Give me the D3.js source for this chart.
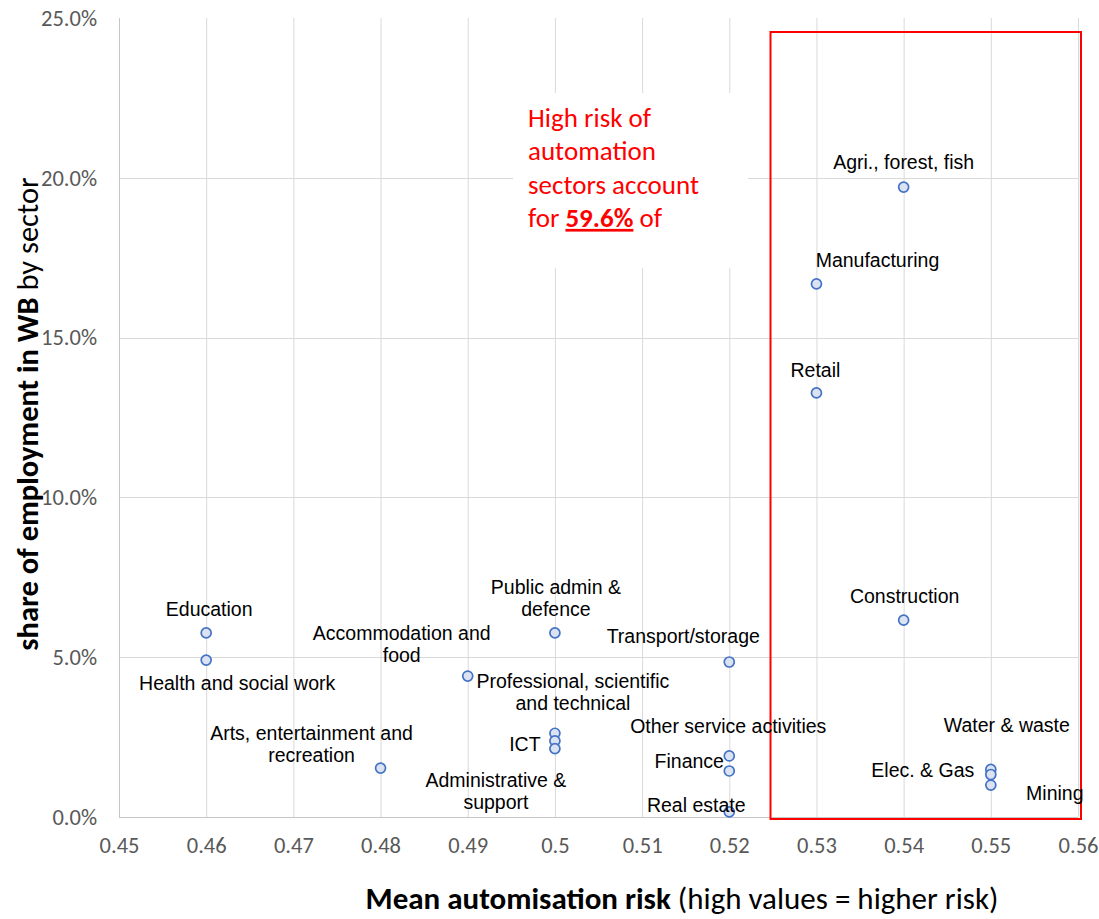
<!DOCTYPE html>
<html>
<head>
<meta charset="utf-8">
<script src="https://cdn.jsdelivr.net/npm/d3@7"></script>
<style>
  html, body { margin: 0; padding: 0; background: #ffffff; }
  svg { display: block; }
</style>
</head>
<body>
<svg id="chart" width="1099" height="919"></svg>
<script>
// ---- data ----
const sectors = [
  "Education", "Health and social work", "Arts, entertainment and\nrecreation",
  "Accommodation and\nfood", "Public admin &\ndefence", "Professional, scientific\nand technical",
  "ICT", "Administrative &\nsupport", "Transport/storage", "Other service activities",
  "Finance", "Real estate", "Agri., forest, fish", "Manufacturing", "Retail",
  "Construction", "Water & waste", "Elec. & Gas", "Mining"
];
const automationRisk = [
  0.46, 0.46, 0.48, 0.49, 0.50, 0.50, 0.50, 0.50, 0.52, 0.52,
  0.52, 0.52, 0.54, 0.53, 0.53, 0.54, 0.55, 0.55, 0.55
];
const employmentShare = [
  0.0576, 0.0491, 0.0153, 0.0441, 0.0576, 0.0262, 0.0238, 0.0214, 0.0485, 0.0191,
  0.0144, 0.0016, 0.1971, 0.1668, 0.1327, 0.0616, 0.0149, 0.0133, 0.0100
];
const xTicks = [0.45, 0.46, 0.47, 0.48, 0.49, 0.50, 0.51, 0.52, 0.53, 0.54, 0.55, 0.56];
const yTicks = [0, 0.05, 0.10, 0.15, 0.20, 0.25];
const xTickLabels = ["0.45","0.46","0.47","0.48","0.49","0.5","0.51","0.52","0.53","0.54","0.55","0.56"];
const annotationLines = ["High risk of", "automation", "sectors account"];
const annotationHighlight = "59.6%";

// ---- layout (label offsets relative to each point, in px) ----
const labelDx = [3, 31, -69, -66, 1, 18, -30, -59, -46, -1, -40, -33, 0, 61, -1, 1, 16, -68, 64];
const labelDy = [-17, 30, -28, -36, -39, -45, 10, 38, -19, -23, -3, 0, -18, -17, -16, -17, -37, 3, 15];

const svg = d3.select("#chart");
const x = d3.scaleLinear().domain([0.45, 0.56]).range([119, 1078]);
const y = d3.scaleLinear().domain([0, 0.25]).range([817, 18]);

const calibri = "Carlito, Calibri, Lato, sans-serif";
const arial = "'Liberation Sans', Arial, sans-serif";

// gridlines
const grid = svg.append("g");
grid.selectAll("line.v").data(xTicks.slice(1)).join("line")
  .attr("x1", d => x(d) + 0.5).attr("x2", d => x(d) + 0.5)
  .attr("y1", y(0.25)).attr("y2", y(0))
  .attr("stroke", "#d9d9d9").attr("stroke-width", 1);
grid.selectAll("line.h").data(yTicks.slice(1, -1)).join("line")
  .attr("x1", x(0.45)).attr("x2", x(0.56))
  .attr("y1", d => Math.round(y(d)) + 0.5).attr("y2", d => Math.round(y(d)) + 0.5)
  .attr("stroke", "#d9d9d9").attr("stroke-width", 1);

// axes lines
svg.append("line").attr("x1", x(0.45) + 0.5).attr("x2", x(0.45) + 0.5)
  .attr("y1", y(0.25)).attr("y2", y(0)).attr("stroke", "#c6c6c6");
svg.append("line").attr("x1", x(0.45)).attr("x2", x(0.56))
  .attr("y1", Math.round(y(0)) + 0.5).attr("y2", Math.round(y(0)) + 0.5).attr("stroke", "#c6c6c6");

// tick labels via d3 axes
const xAxis = d3.axisBottom(x).tickValues(xTicks).tickFormat((d, i) => xTickLabels[i]).tickSize(0).tickPadding(20);
const gx = svg.append("g").attr("transform", `translate(0,${y(0)})`).call(xAxis);
gx.select(".domain").remove();
gx.selectAll("text").attr("font-family", calibri).attr("font-size", 22.5).attr("fill", "#595959");

const yAxis = d3.axisLeft(y).tickValues(yTicks).tickFormat(d3.format(".1%")).tickSize(0).tickPadding(22);
const gy = svg.append("g").attr("transform", `translate(${x(0.45)},0)`).call(yAxis);
gy.select(".domain").remove();
gy.selectAll("text").attr("font-family", calibri).attr("font-size", 22.5).attr("fill", "#595959");

// annotation text box (white background hides gridlines)
svg.append("rect").attr("x", 513).attr("y", 93).attr("width", 235).attr("height", 175).attr("fill", "#ffffff");
const ann = svg.append("text").attr("font-family", calibri).attr("font-size", 27).attr("fill", "#ff0000");
annotationLines.forEach((t, i) => {
  ann.append("tspan").attr("x", 528).attr("y", 127 + i * 33.3).text(t);
});
const last = ann.append("tspan").attr("x", 528).attr("y", 127 + 3 * 33.3);
last.append("tspan").text("for ");
last.append("tspan").attr("font-weight", "bold").attr("text-decoration", "underline").text(annotationHighlight);
last.append("tspan").text(" of");

// red rectangle
svg.append("rect").attr("x", 770.5).attr("y", 32).attr("width", 310.5).attr("height", 787)
  .attr("fill", "none").attr("stroke", "#ff0000").attr("stroke-width", 2);

// points
const idx = d3.range(sectors.length);
svg.append("g").selectAll("circle").data(idx).join("circle")
  .attr("cx", i => x(automationRisk[i])).attr("cy", i => y(employmentShare[i]))
  .attr("r", 5).attr("fill", "#dbe3f3").attr("stroke", "#4472c4").attr("stroke-width", 1.7);

// labels
const lbl = svg.append("g").attr("font-family", arial).attr("font-size", 19.5).attr("fill", "#000000")
  .attr("text-anchor", "middle");
idx.forEach(i => {
  const cx = x(automationRisk[i]) + labelDx[i];
  const cy = y(employmentShare[i]) + labelDy[i];
  const t = lbl.append("text");
  sectors[i].split("\n").forEach((line, k) => {
    t.append("tspan").attr("x", cx).attr("y", cy + k * 22).text(line);
  });
});

// axis titles
const yt = svg.append("text").attr("transform", "translate(38,414) rotate(-90)")
  .attr("text-anchor", "middle").attr("font-family", calibri).attr("font-size", 30.5).attr("fill", "#000");
yt.append("tspan").attr("font-weight", "bold").text("share of employment in WB");
yt.append("tspan").text(" by sector");

const xt = svg.append("text").attr("x", 682).attr("y", 909)
  .attr("text-anchor", "middle").attr("font-family", calibri).attr("font-size", 31).attr("fill", "#000");
xt.append("tspan").attr("font-weight", "bold").text("Mean automisation risk");
xt.append("tspan").text(" (high values = higher risk)");
</script>
</body>
</html>
